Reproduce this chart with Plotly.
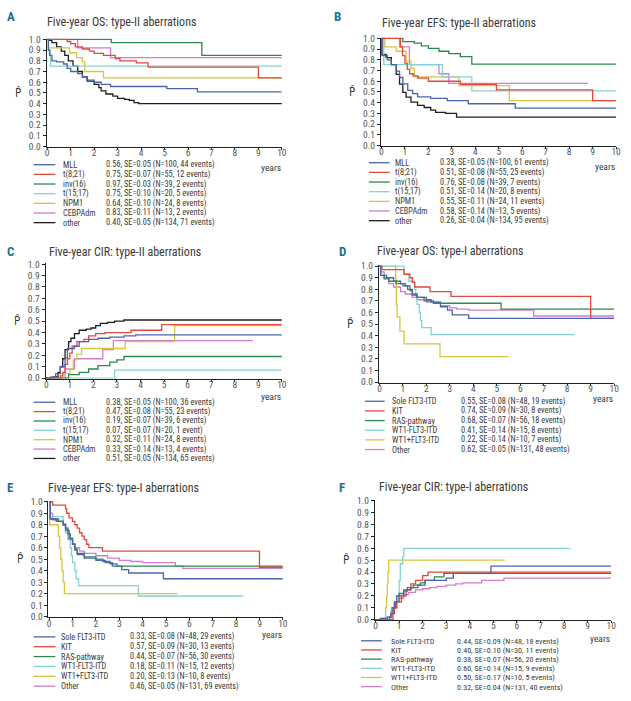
import plotly.graph_objects as go

W, H = 631, 701
FONT = "Roboto Condensed, DejaVu Sans Condensed, Liberation Sans, sans-serif"

BLUE, RED, GREEN = "#4c64aa", "#e2483c", "#2b8a4e"
CYAN, YELLOW, PINK, BLACK = "#86d2d2", "#d6c63e", "#d27ccb", "#1e1e1e"

# ---------------- A: five-year OS, type-II ----------------
A_MLL_t = [0, 0.05, 0.1, 0.2, 0.4, 0.7, 0.85, 1.0, 1.3, 1.5, 1.7, 2.0, 2.3, 2.7, 5.1, 6.4, 10]
A_MLL_p = [1.0, 0.90, 0.85, 0.80, 0.79, 0.77, 0.73, 0.70, 0.68, 0.65, 0.62, 0.60, 0.58, 0.56, 0.54, 0.51, 0.51]
A_T821_t = [0, 0.85, 1.0, 1.2, 1.5, 1.8, 2.0, 2.4, 2.9, 3.1, 3.8, 4.3, 9.0, 10]
A_T821_p = [1.0, 0.98, 0.96, 0.93, 0.91, 0.89, 0.87, 0.85, 0.82, 0.80, 0.78, 0.74, 0.64, 0.64]
A_INV16_t = [0, 2.73, 6.59, 10]
A_INV16_p = [1.0, 0.97, 0.85, 0.85]
A_T1517_t = [0, 0.05, 0.14, 10]
A_T1517_p = [1.0, 0.90, 0.75, 0.75]
A_NPM1_t = [0, 0.05, 0.95, 1.25, 1.5, 1.6, 2.4, 10]
A_NPM1_p = [1.0, 0.92, 0.875, 0.83, 0.79, 0.70, 0.64, 0.64]
A_CEBPA_t = [0, 1.3, 2.7, 10]
A_CEBPA_p = [1.0, 0.92, 0.83, 0.83]
A_OTHER_t = [0, 0.1, 0.2, 0.4, 0.6, 0.75, 0.9, 1.1, 1.3, 1.5, 1.7, 2.0, 2.2, 2.3, 2.5, 2.8, 3.0, 3.3, 3.5, 3.7, 3.9, 10]
A_OTHER_p = [1.0, 0.99, 0.97, 0.93, 0.89, 0.85, 0.80, 0.75, 0.70, 0.65, 0.61, 0.58, 0.55, 0.52, 0.49, 0.47, 0.45, 0.44, 0.43, 0.41, 0.40, 0.40]

# ---------------- B: five-year EFS, type-II ----------------
B_MLL_t = [0, 0.02, 0.25, 0.42, 0.63, 0.77, 0.91, 1.12, 1.33, 1.54, 2.1, 2.8, 3.7, 5.7, 10]
B_MLL_p = [1.0, 0.84, 0.80, 0.755, 0.695, 0.635, 0.575, 0.515, 0.485, 0.455, 0.44, 0.42, 0.39, 0.35, 0.35]
B_T821_t = [0, 0.81, 0.9, 1.0, 1.1, 1.2, 1.35, 1.55, 2.0, 3.36, 4.9, 9.0, 10]
B_T821_p = [1.0, 0.92, 0.84, 0.77, 0.71, 0.67, 0.65, 0.63, 0.60, 0.57, 0.52, 0.42, 0.42]
B_INV16_t = [0, 0.91, 1.4, 1.7, 2.0, 2.45, 2.87, 3.36, 3.85, 10]
B_INV16_p = [1.0, 0.97, 0.955, 0.93, 0.906, 0.88, 0.857, 0.83, 0.76, 0.76]
B_T1517_t = [0, 0.1, 2.6, 3.85, 10]
B_T1517_p = [1.0, 0.755, 0.64, 0.51, 0.51]
B_NPM1_t = [0, 0.14, 0.63, 1.05, 1.26, 1.4, 3.3, 5.45, 10]
B_NPM1_p = [1.0, 0.92, 0.88, 0.79, 0.72, 0.64, 0.56, 0.42, 0.42]
B_CEBPA_t = [0, 0.77, 1.19, 2.45, 2.87, 8.8]
B_CEBPA_p = [1.0, 0.92, 0.755, 0.67, 0.58, 0.58]
B_OTHER_t = [0, 0.02, 0.2, 0.42, 0.63, 0.77, 0.91, 1.05, 1.26, 1.54, 1.82, 2.1, 2.31, 2.73, 3.2, 10]
B_OTHER_p = [1.0, 0.85, 0.82, 0.755, 0.664, 0.573, 0.497, 0.452, 0.406, 0.375, 0.355, 0.33, 0.31, 0.30, 0.265, 0.265]

# ---------------- C: five-year CIR, type-II ----------------
C_MLL_t = [0, 0.2, 0.4, 0.6, 0.8, 0.9, 1.2, 1.4, 1.8, 2.2, 2.7, 3.3, 3.8, 10]
C_MLL_p = [0, 0.01, 0.04, 0.10, 0.18, 0.26, 0.28, 0.32, 0.34, 0.35, 0.36, 0.37, 0.38, 0.38]
C_T821_t = [0, 0.6, 0.7, 0.8, 0.9, 1.0, 1.1, 1.3, 1.6, 1.8, 2.1, 2.5, 3.6, 4.9, 10]
C_T821_p = [0, 0.02, 0.05, 0.12, 0.17, 0.22, 0.28, 0.32, 0.34, 0.37, 0.39, 0.40, 0.42, 0.47, 0.47]
C_INV16_t = [0, 0.95, 1.4, 1.8, 2.2, 2.7, 3.0, 3.3, 10]
C_INV16_p = [0, 0.03, 0.05, 0.08, 0.11, 0.14, 0.16, 0.19, 0.19]
C_T1517_t = [0, 2.9, 10]
C_T1517_p = [0, 0.07, 0.07]
C_NPM1_t = [0, 0.7, 1.0, 1.15, 1.3, 1.5, 3.35, 5.45, 10]
C_NPM1_p = [0, 0.04, 0.08, 0.16, 0.21, 0.26, 0.32, 0.46, 0.46]
C_CEBPA_t = [0, 0.8, 1.2, 2.4, 2.85, 8.77]
C_CEBPA_p = [0, 0.08, 0.17, 0.25, 0.33, 0.33]
C_OTHER_t = [0, 0.1, 0.3, 0.5, 0.6, 0.7, 0.8, 0.95, 1.05, 1.2, 1.4, 1.7, 1.9, 2.1, 2.3, 2.6, 2.9, 3.3, 10]
C_OTHER_p = [0, 0.005, 0.01, 0.05, 0.10, 0.17, 0.25, 0.32, 0.35, 0.39, 0.42, 0.43, 0.44, 0.46, 0.48, 0.49, 0.50, 0.51, 0.51]

# ---------------- D: five-year OS, type-I ----------------
D_FLT_t = [0, 0.05, 0.3, 0.6, 0.9, 1.1, 1.3, 1.4, 1.6, 2.0, 2.2, 2.6, 2.9, 3.1, 3.8, 10]
D_FLT_p = [1.0, 0.92, 0.90, 0.87, 0.85, 0.83, 0.79, 0.75, 0.73, 0.71, 0.69, 0.65, 0.62, 0.58, 0.55, 0.55]
D_KIT_t = [0, 0.1, 1.05, 1.3, 1.4, 1.5, 2.15, 3.05, 9.0, 10]
D_KIT_p = [1.0, 0.97, 0.93, 0.90, 0.86, 0.82, 0.78, 0.74, 0.55, 0.55]
D_RAS_t = [0, 0.05, 0.2, 0.4, 0.7, 1.0, 1.2, 1.4, 1.6, 1.9, 2.3, 5.18, 10]
D_RAS_p = [1.0, 0.92, 0.89, 0.87, 0.85, 0.83, 0.80, 0.76, 0.73, 0.70, 0.68, 0.63, 0.63]
D_WT1M_t = [0, 1.05, 1.25, 1.5, 1.55, 1.6, 1.7, 1.75, 1.8, 2.2, 8.3]
D_WT1M_p = [1.0, 0.93, 0.87, 0.80, 0.73, 0.67, 0.60, 0.53, 0.47, 0.41, 0.41]
D_WT1P_t = [0, 0.69, 0.72, 0.75, 0.87, 1.05, 2.58, 5.49]
D_WT1P_p = [1.0, 0.89, 0.67, 0.56, 0.44, 0.33, 0.22, 0.22]
D_OTHER_t = [0, 0.05, 0.2, 0.4, 0.6, 0.9, 1.1, 1.4, 1.6, 2.0, 2.6, 3.0, 3.3, 3.8, 6.57, 10]
D_OTHER_p = [1.0, 0.95, 0.90, 0.85, 0.82, 0.78, 0.76, 0.73, 0.71, 0.69, 0.66, 0.64, 0.63, 0.62, 0.57, 0.57]

# ---------------- E: five-year EFS, type-I ----------------
E_FLT_t = [0, 0.05, 0.4, 0.6, 0.7, 0.85, 1.0, 1.1, 1.2, 1.5, 2.0, 2.4, 2.7, 3.1, 3.4, 4.89, 10]
E_FLT_p = [1.0, 0.85, 0.83, 0.80, 0.75, 0.68, 0.63, 0.58, 0.54, 0.51, 0.49, 0.47, 0.44, 0.41, 0.38, 0.33, 0.33]
E_KIT_t = [0, 0.15, 0.7, 0.75, 0.85, 1.0, 1.1, 1.2, 1.3, 1.4, 1.5, 1.6, 1.7, 2.28, 9.0, 10]
E_KIT_p = [1.0, 0.97, 0.94, 0.90, 0.86, 0.83, 0.80, 0.77, 0.73, 0.70, 0.67, 0.63, 0.60, 0.57, 0.43, 0.43]
E_RAS_t = [0, 0.05, 0.3, 0.6, 0.7, 0.8, 0.9, 1.0, 1.1, 1.2, 1.5, 2.0, 2.3, 2.6, 2.9, 10]
E_RAS_p = [1.0, 0.85, 0.83, 0.80, 0.77, 0.72, 0.68, 0.63, 0.59, 0.55, 0.52, 0.50, 0.48, 0.46, 0.44, 0.44]
E_WT1M_t = [0, 0.05, 0.6, 0.7, 0.8, 0.9, 0.95, 1.0, 1.1, 1.15, 1.26, 3.82, 8.3]
E_WT1M_p = [1.0, 0.87, 0.80, 0.73, 0.67, 0.60, 0.53, 0.47, 0.40, 0.33, 0.27, 0.18, 0.18]
E_WT1P_t = [0, 0.02, 0.39, 0.45, 0.5, 0.55, 0.6, 0.65, 5.48]
E_WT1P_p = [1.0, 0.80, 0.70, 0.60, 0.50, 0.40, 0.30, 0.20, 0.20]
E_OTHER_t = [0, 0.05, 0.15, 0.4, 0.6, 0.7, 0.8, 0.9, 1.0, 1.1, 1.3, 1.5, 2.0, 2.5, 3.0, 3.5, 4.0, 5.4, 5.72, 10]
E_OTHER_p = [1.0, 0.90, 0.84, 0.83, 0.81, 0.77, 0.72, 0.67, 0.63, 0.60, 0.57, 0.55, 0.53, 0.51, 0.49, 0.48, 0.47, 0.44, 0.42, 0.42]

# ---------------- F: five-year CIR, type-I ----------------
F_FLT_t = [0, 0.2, 0.5, 0.65, 0.7, 0.8, 0.9, 1.0, 1.2, 1.5, 1.8, 2.1, 3.0, 3.3, 4.9, 10]
F_FLT_p = [0, 0.01, 0.02, 0.05, 0.10, 0.15, 0.20, 0.22, 0.25, 0.27, 0.29, 0.33, 0.35, 0.39, 0.45, 0.45]
F_KIT_t = [0, 0.74, 0.8, 0.9, 1.1, 1.3, 1.5, 1.7, 2.0, 2.23, 10]
F_KIT_p = [0, 0.05, 0.10, 0.15, 0.20, 0.25, 0.30, 0.33, 0.37, 0.40, 0.40]
F_RAS_t = [0, 0.6, 0.65, 0.75, 0.85, 1.0, 1.2, 1.35, 1.6, 1.9, 2.1, 2.5, 2.9, 10]
F_RAS_p = [0, 0.02, 0.05, 0.10, 0.15, 0.20, 0.24, 0.27, 0.29, 0.31, 0.33, 0.36, 0.39, 0.39]
F_WT1M_t = [0, 0.65, 0.8, 0.9, 1.0, 1.05, 1.15, 1.2, 8.27]
F_WT1M_p = [0, 0.07, 0.13, 0.20, 0.33, 0.47, 0.53, 0.60, 0.60]
F_WT1P_t = [0, 0.43, 0.47, 0.5, 0.53, 0.56, 5.49]
F_WT1P_p = [0, 0.10, 0.20, 0.30, 0.40, 0.50, 0.50]
F_OTHER_t = [0, 0.3, 0.5, 0.7, 0.8, 0.9, 1.0, 1.2, 1.4, 1.7, 2.0, 2.3, 2.6, 3.0, 3.4, 3.7, 4.5, 5.45, 10]
F_OTHER_p = [0, 0.01, 0.02, 0.05, 0.10, 0.15, 0.18, 0.21, 0.23, 0.25, 0.26, 0.27, 0.28, 0.29, 0.30, 0.31, 0.33, 0.35, 0.35]

# legend labels
TYPE2_NAMES = ["MLL", "t(8;21)", "inv(16)", "t(15;17)", "NPM1", "CEBPAdm", "other"]
TYPE1_NAMES = ["Sole FLT3-ITD", "KIT", "RAS-pathway", "WT1-FLT3-ITD", "WT1+FLT3-ITD", "Other"]
TYPE2_COLORS = [BLUE, RED, GREEN, CYAN, YELLOW, PINK, BLACK]
TYPE1_COLORS = [BLUE, RED, GREEN, CYAN, YELLOW, PINK]

A_STATS = ["0.56, SE=0.05 (N=100, 44 events)", "0.75, SE=0.07 (N=55, 12 events)",
           "0.97, SE=0.03 (N=39, 2 events)", "0.75, SE=0.10 (N=20, 5 events)",
           "0.64, SE=0.10 (N=24, 8 events)", "0.83, SE=0.11 (N=13, 2 events)",
           "0.40, SE=0.05 (N=134, 71 events)"]
B_STATS = ["0.38, SE=0.05 (N=100, 61 events)", "0.51, SE=0.08 (N=55, 25 events)",
           "0.76, SE=0.08 (N=39, 7 events)", "0.51, SE=0.14 (N=20, 8 events)",
           "0.55, SE=0.11 (N=24, 11 events)", "0.58, SE=0.14 (N=13, 5 events)",
           "0.26, SE=0.04 (N=134, 95 events)"]
C_STATS = ["0.38, SE=0.05 (N=100, 36 events)", "0.47, SE=0.08 (N=55, 23 events)",
           "0.19, SE=0.07 (N=39, 6 events)", "0.07, SE=0.07 (N=20, 1 event)",
           "0.32, SE=0.11 (N=24, 8 events)", "0.33, SE=0.14 (N=13, 4 events)",
           "0.51, SE=0.05 (N=134, 65 events)"]
D_STATS = ["0.55, SE=0.08 (N=48, 19 events)", "0.74, SE=0.09 (N=30, 8 events)",
           "0.68, SE=0.07 (N=56, 18 events)", "0.41, SE=0.14 (N=15, 8 events)",
           "0.22, SE=0.14 (N=10, 7 events)", "0.62, SE=0.05 (N=131, 48 events)"]
E_STATS = ["0.33, SE=0.08 (N=48, 29 events)", "0.57, SE=0.09 (N=30, 13 events)",
           "0.44, SE=0.07 (N=56, 30 events)", "0.18, SE=0.11 (N=15, 12 events)",
           "0.20, SE=0.13 (N=10, 8 events)", "0.46, SE=0.05 (N=131, 69 events)"]
F_STATS = ["0.44, SE=0.09 (N=48, 18 events)", "0.40, SE=0.10 (N=30, 11 events)",
           "0.38, SE=0.07 (N=56, 20 events)", "0.60, SE=0.14 (N=15, 9 events)",
           "0.50, SE=0.17 (N=10, 5 events)", "0.32, SE=0.04 (N=131, 40 events)"]

# panel layout in pixels: axis box (x0, x1, ytop, ybottom), legend (line x0, x1, name x, stats x), rows (first y, step)
panels = [
    dict(letter="A", title="Five-year OS: type-II aberrations", box=(45, 283, 34, 144),
         lx=(32, 54, 61, 104), ly=(162, 9.8), letter_xy=(3, 12), title_xy=(43, 17), years_dy=21,
         names=TYPE2_NAMES, colors=TYPE2_COLORS, stats=A_STATS,
         curves=[(A_MLL_t, A_MLL_p), (A_T821_t, A_T821_p), (A_INV16_t, A_INV16_p), (A_T1517_t, A_T1517_p),
                 (A_NPM1_t, A_NPM1_p), (A_CEBPA_t, A_CEBPA_p), (A_OTHER_t, A_OTHER_p)]),
    dict(letter="B", title="Five-year EFS: type-II aberrations", box=(383, 621, 33, 143),
         lx=(371, 392, 396, 442), ly=(160, 9.8), letter_xy=(334, 12), title_xy=(382, 18), years_dy=21,
         names=TYPE2_NAMES, colors=TYPE2_COLORS, stats=B_STATS,
         curves=[(B_MLL_t, B_MLL_p), (B_T821_t, B_T821_p), (B_INV16_t, B_INV16_p), (B_T1517_t, B_T1517_p),
                 (B_NPM1_t, B_NPM1_p), (B_CEBPA_t, B_CEBPA_p), (B_OTHER_t, B_OTHER_p)]),
    dict(letter="C", title="Five-year CIR: type-II aberrations", box=(44, 283, 262, 379),
         lx=(32, 54, 61, 104), ly=(403, 9.5), letter_xy=(3, 250), title_xy=(46, 251), years_dy=18,
         names=TYPE2_NAMES, colors=TYPE2_COLORS, stats=C_STATS,
         curves=[(C_MLL_t, C_MLL_p), (C_T821_t, C_T821_p), (C_INV16_t, C_INV16_p), (C_T1517_t, C_T1517_p),
                 (C_NPM1_t, C_NPM1_p), (C_CEBPA_t, C_CEBPA_p), (C_OTHER_t, C_OTHER_p)]),
    dict(letter="D", title="Five-year OS: type-I aberrations", box=(381, 619, 264, 383),
         lx=(367, 387, 393, 463), ly=(402, 9.8), letter_xy=(339, 250), title_xy=(377, 250), years_dy=16,
         names=TYPE1_NAMES, colors=TYPE1_COLORS, stats=D_STATS,
         curves=[(D_FLT_t, D_FLT_p), (D_KIT_t, D_KIT_p), (D_RAS_t, D_RAS_p), (D_WT1M_t, D_WT1M_p),
                 (D_WT1P_t, D_WT1P_p), (D_OTHER_t, D_OTHER_p)]),
    dict(letter="E", title="Five-year EFS: type-I aberrations", box=(47, 284, 503, 621),
         lx=(32, 54, 59, 128), ly=(641, 10), letter_xy=(3, 489), title_xy=(44, 490), years_dy=18,
         names=TYPE1_NAMES, colors=TYPE1_COLORS, stats=E_STATS,
         curves=[(E_FLT_t, E_FLT_p), (E_KIT_t, E_KIT_p), (E_RAS_t, E_RAS_p), (E_WT1M_t, E_WT1M_p),
                 (E_WT1P_t, E_WT1P_p), (E_OTHER_t, E_OTHER_p)]),
    dict(letter="F", title="Five-year CIR: type-I aberrations", box=(377, 616, 502, 624),
         lx=(363, 384, 392, 459), ly=(645, 9.3), letter_xy=(339, 489), title_xy=(379, 489), years_dy=19,
         names=TYPE1_NAMES, colors=TYPE1_COLORS, stats=F_STATS,
         curves=[(F_FLT_t, F_FLT_p), (F_KIT_t, F_KIT_p), (F_RAS_t, F_RAS_p), (F_WT1M_t, F_WT1M_p),
                 (F_WT1P_t, F_WT1P_p), (F_OTHER_t, F_OTHER_p)]),
]


def px(x):
    return x / W


def py(y):
    return 1 - y / H


fig = go.Figure()
annotations = []
shapes = []
axis_font = dict(family=FONT, size=9.5, color="#555555")
text_col = "#3a3a3a"

for i, pan in enumerate(panels, start=1):
    x0, x1, yt, yb = pan["box"]
    sfx = "" if i == 1 else str(i)
    # curves, last group first so the first group ends on top
    for (t, p), name, col in reversed(list(zip(pan["curves"], pan["names"], pan["colors"]))):
        fig.add_trace(go.Scatter(x=t, y=p, mode="lines", line=dict(color=col, width=1.3, shape="hv"),
                                 name=name, showlegend=False, xaxis="x" + sfx, yaxis="y" + sfx,
                                 hoverinfo="skip"))

    fig.layout["xaxis" + sfx] = dict(
        domain=[px(x0), px(x1)], range=[-0.03, 10], dtick=1, tick0=0, anchor="y" + sfx,
        showline=True, linecolor="#222222", linewidth=1, ticks="outside", ticklen=2,
        ticklabelstandoff=-5,
        tickcolor="#222222", tickfont=axis_font, showgrid=False, zeroline=False, fixedrange=True)
    fig.layout["yaxis" + sfx] = dict(
        domain=[py(yb), py(yt)], range=[-0.004, 1.008], dtick=0.1, tick0=0, tickformat=".1f",
        anchor="x" + sfx, showline=True, linecolor="#222222", linewidth=1, ticks="outside",
        ticklen=3, tickcolor="#222222", tickfont=axis_font, showgrid=False, zeroline=False,
        fixedrange=True)

    # panel letter + title
    lx_, ly_ = pan["letter_xy"]
    annotations.append(dict(x=px(lx_), y=py(ly_), xref="paper", yref="paper", text="<b>%s</b>" % pan["letter"],
                            showarrow=False, xanchor="left", yanchor="middle",
                            font=dict(family=FONT, size=13, color="#1b6f8f")))
    tx, ty = pan["title_xy"]
    annotations.append(dict(x=px(tx), y=py(ty), xref="paper", yref="paper", text=pan["title"],
                            showarrow=False, xanchor="left", yanchor="middle",
                            font=dict(family=FONT, size=12, color=text_col)))
    # y label: P with a hat (combining circumflex), one text
    ymid = (yt + yb) / 2
    annotations.append(dict(x=px(x0 - 25), y=py(ymid), xref="paper", yref="paper", text="P\u0302",
                            showarrow=False, xanchor="right", yanchor="middle", borderpad=0,
                            font=dict(family=FONT, size=11.5, color=text_col)))
    # years
    annotations.append(dict(x=px(x1 + 1), y=py(yb + pan["years_dy"]), xref="paper", yref="paper",
                            text="years", showarrow=False, xanchor="right", yanchor="middle",
                            font=dict(family=FONT, size=9.5, color=text_col)))

    # legend block
    lxa, lxb, nx, sx = pan["lx"]
    ry0, step = pan["ly"]
    leg_size = 8.1 if step < 9.5 else 8.3
    for j, (name, col, st) in enumerate(zip(pan["names"], pan["colors"], pan["stats"])):
        ry = ry0 + j * step
        shapes.append(dict(type="line", xref="paper", yref="paper", x0=px(lxa), x1=px(lxb),
                           y0=py(ry), y1=py(ry), line=dict(color=col, width=1.3)))
        annotations.append(dict(x=px(nx), y=py(ry), xref="paper", yref="paper", text=name,
                                showarrow=False, xanchor="left", yanchor="middle", borderpad=0,
                                font=dict(family=FONT, size=leg_size, color=text_col)))
        annotations.append(dict(x=px(sx), y=py(ry), xref="paper", yref="paper", text=st,
                                showarrow=False, xanchor="left", yanchor="middle", borderpad=0,
                                font=dict(family=FONT, size=leg_size, color=text_col)))

fig.update_layout(
    width=W, height=H, margin=dict(l=0, r=0, t=0, b=0),
    paper_bgcolor="white", plot_bgcolor="white",
    annotations=annotations, shapes=shapes, showlegend=False,
    font=dict(family=FONT, color=text_col),
)

# the page body has a default 8px margin; drop it so the figure sits at the window origin
fig.write_html("out.html", config=dict(displayModeBar=False),
               post_script="document.body.style.margin='0';")
